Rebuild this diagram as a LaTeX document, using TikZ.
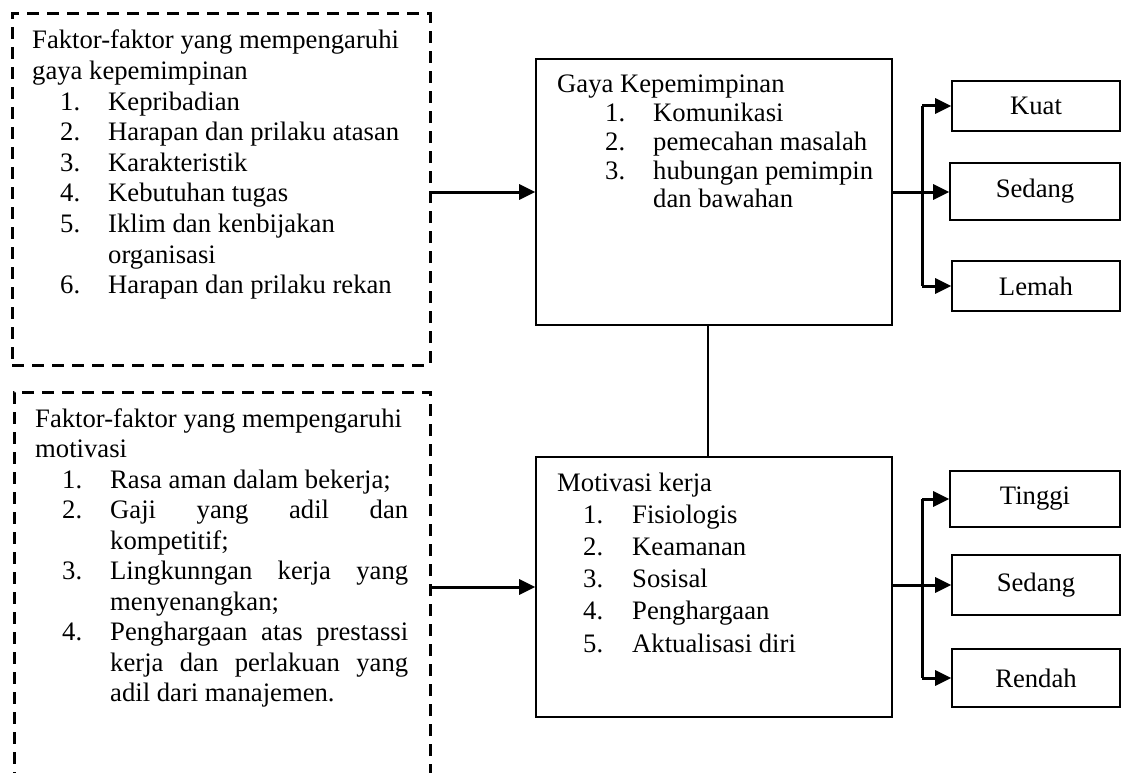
\documentclass[tikz,border=0pt]{standalone}
\usepackage{fontspec}
\setmainfont{Liberation Serif}
\usetikzlibrary{arrows.meta}
\newcommand\fsz[1]{\fontsize{26.67}{#1}\selectfont}
\begin{document}
\begin{tikzpicture}[x=1pt,y=-1pt,
  dashbox/.style={draw, line width=3pt, dash pattern=on 12pt off 8pt, inner sep=0pt},
  solidbox/.style={draw, line width=1.6pt, inner sep=0pt},
  lbl/.style={font=\fsz{32}, inner sep=0pt},
  txt/.style={inner sep=0pt, anchor=base west},
  arr/.style={line width=3pt, -{Triangle[length=16pt,width=15pt]}},
  lnk/.style={line width=3pt}]
\useasboundingbox (0,0) rectangle (1121,773);
\clip (0,0) rectangle (1121,773);
% dashed boxes
\node[dashbox, minimum width=418pt, minimum height=351pt] (d1) at (221,189.5) {};
\node[dashbox, minimum width=416pt, minimum height=408pt] (d2) at (222,596) {};
% main boxes
\node[solidbox, minimum width=356pt, minimum height=266pt] (gaya) at (714,192) {};
\node[solidbox, minimum width=356pt, minimum height=260pt] (motiv) at (714,587) {};
% result boxes
\node[solidbox, lbl, minimum width=168pt, minimum height=50pt] (kuat) at (1036,106) {Kuat};
\node[solidbox, lbl, minimum width=170pt, minimum height=57pt] (sedang1) at (1035,191.5) {Sedang};
\node[solidbox, lbl, minimum width=168pt, minimum height=50pt] (lemah) at (1036,286) {Lemah};
\node[solidbox, lbl, minimum width=170pt, minimum height=56pt] (tinggi) at (1035,499) {Tinggi};
\node[solidbox, lbl, minimum width=168pt, minimum height=60pt] (sedang2) at (1036,585) {Sedang};
\node[solidbox, lbl, minimum width=168pt, minimum height=58pt] (rendah) at (1036,678) {Rendah};
% texts
\node[txt] (t1) at (32,49) {\parbox[t]{390pt}{\fsz{30.6}\raggedright
Faktor-faktor yang mempengaruhi\\
gaya kepemimpinan\\
\hspace*{28pt}\makebox[48pt][l]{1.}Kepribadian\\
\hspace*{28pt}\makebox[48pt][l]{2.}Harapan dan prilaku atasan\\
\hspace*{28pt}\makebox[48pt][l]{3.}Karakteristik\\
\hspace*{28pt}\makebox[48pt][l]{4.}Kebutuhan tugas\\
\hspace*{28pt}\makebox[48pt][l]{5.}Iklim dan kenbijakan\\
\hspace*{76pt}organisasi\\
\hspace*{28pt}\makebox[48pt][l]{6.}Harapan dan prilaku rekan}};
\node[txt] (t2) at (35,427) {\parbox[t]{390pt}{\fsz{30.5}\raggedright
Faktor-faktor yang mempengaruhi\\
motivasi\\
\hspace*{27pt}\makebox[48pt][l]{1.}Rasa aman dalam bekerja;\\
\hspace*{27pt}\makebox[48pt][l]{2.}\makebox[298pt][s]{Gaji yang adil dan}\\
\hspace*{75pt}kompetitif;\\
\hspace*{27pt}\makebox[48pt][l]{3.}\makebox[298pt][s]{Lingkunngan kerja yang}\\
\hspace*{75pt}menyenangkan;\\
\hspace*{27pt}\makebox[48pt][l]{4.}\makebox[298pt][s]{Penghargaan atas prestassi}\\
\hspace*{75pt}\makebox[298pt][s]{kerja dan perlakuan yang}\\
\hspace*{75pt}adil dari manajemen.}};
\node[txt] (t3) at (557,93) {\parbox[t]{330pt}{\fsz{28.7}\raggedright
Gaya Kepemimpinan\\
\hspace*{48pt}\makebox[48pt][l]{1.}Komunikasi\\
\hspace*{48pt}\makebox[48pt][l]{2.}pemecahan masalah\\
\hspace*{48pt}\makebox[48pt][l]{3.}hubungan pemimpin\\
\hspace*{96pt}dan bawahan}};
\node[txt] (t4) at (557,491) {\parbox[t]{330pt}{\fsz{32.2}\raggedright
Motivasi kerja\\
\hspace*{26pt}\makebox[49pt][l]{1.}Fisiologis\\
\hspace*{26pt}\makebox[49pt][l]{2.}Keamanan\\
\hspace*{26pt}\makebox[49pt][l]{3.}Sosisal\\
\hspace*{26pt}\makebox[49pt][l]{4.}Penghargaan\\
\hspace*{26pt}\makebox[49pt][l]{5.}Aktualisasi diri}};
% connectors
\draw[arr] (d1.east |- gaya.west) -- (gaya.west);
\draw[arr] (d2.east |- motiv.west) -- (motiv.west);
\coordinate (vx) at (708,0);
\draw[line width=2.2pt] (vx |- gaya.south) -- (vx |- motiv.north);
\coordinate (bx) at (922,0);
\draw[arr] (gaya.east) -- (gaya.east -| sedang1.west);
\draw[lnk] (bx |- kuat.west) -- (bx |- lemah.west);
\draw[arr] (bx |- kuat.west) -- (kuat.west);
\draw[arr] (bx |- lemah.west) -- (lemah.west);
\draw[arr] (motiv.east |- sedang2.west) -- (sedang2.west);
\draw[lnk] (bx |- tinggi.west) -- (bx |- rendah.west);
\draw[arr] (bx |- tinggi.west) -- (tinggi.west);
\draw[arr] (bx |- rendah.west) -- (rendah.west);
\end{tikzpicture}
\end{document}
